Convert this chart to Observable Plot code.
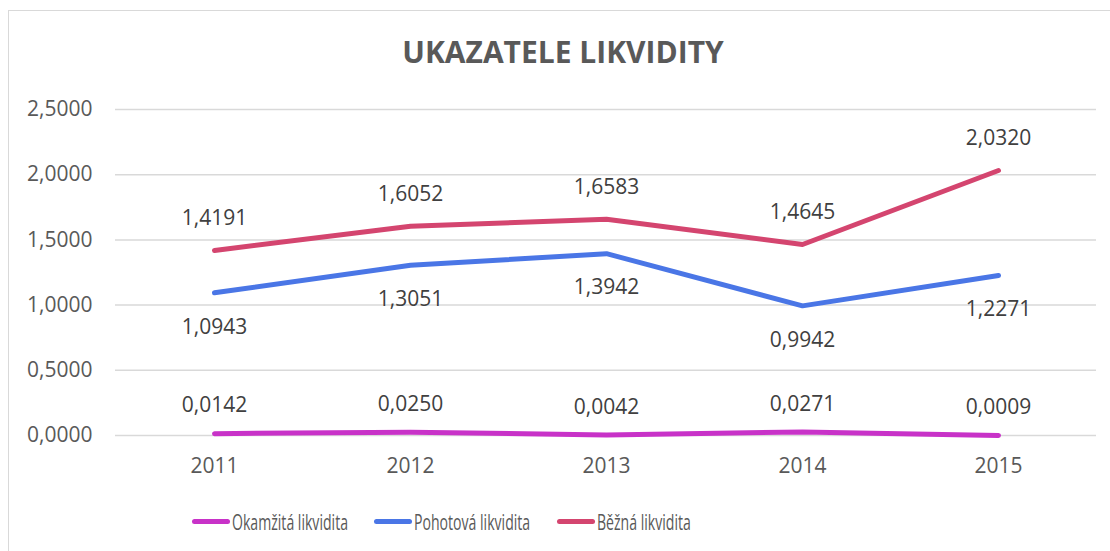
<!DOCTYPE html>
<html>
<head>
<meta charset="utf-8">
<script src="https://cdn.jsdelivr.net/npm/d3@7"></script>
<script src="https://cdn.jsdelivr.net/npm/@observablehq/plot@0.6"></script>
<style>
  html, body { margin: 0; padding: 0; background: #fff; }
  body { width: 1110px; height: 551px; overflow: hidden; position: relative; font-family: "Open Sans", sans-serif; }
  #frame { position: absolute; left: 8px; top: 10px; width: 1200px; height: 600px; border: 1.5px solid #d9d9d9; box-sizing: border-box; }
  #title { position: absolute; left: 0; top: 32px; width: 1126px; text-align: center; font-size: 30px; line-height: 40px; font-weight: 700; color: #595959; }
  #chart { position: absolute; left: 0; top: 0; }
  .leg { position: absolute; top: 509px; height: 24px; display: flex; align-items: center; white-space: nowrap; }
  .sw { width: 38px; height: 5px; border-radius: 3px; }
  .lt { margin-left: 2px; font-size: 22px; color: #595959; transform: scaleX(0.64); transform-origin: left center; display: inline-block; }
</style>
</head>
<body>
<div id="frame"></div>
<div id="title">UKAZATELE LIKVIDITY</div>
<div id="chart"></div>
<div id="legend"></div>
<script>
const years = ["2011", "2012", "2013", "2014", "2015"];
const seriesNames = ["Okamžitá likvidita", "Pohotová likvidita", "Běžná likvidita"];
const okamzita = [0.0142, 0.0250, 0.0042, 0.0271, 0.0009];
const pohotova = [1.0943, 1.3051, 1.3942, 0.9942, 1.2271];
const bezna = [1.4191, 1.6052, 1.6583, 1.4645, 2.0320];
const yTicks = [0, 0.5, 1, 1.5, 2, 2.5];

const colors = ["#C832C8", "#4A76E6", "#D4456F"];
const labelOffsets = [-28, 34, -32];
const legendLeft = [192, 374, 557];

const values = [okamzita, pohotova, bezna];
const rows = [];
seriesNames.forEach((s, i) => years.forEach((y, j) => rows.push({series: s, year: y, value: values[i][j], idx: i})));
const fmt = d => d.toFixed(4).replace(".", ",");

const marks = [
  Plot.gridY(yTicks, {stroke: "#d9d9d9", strokeOpacity: 1, strokeWidth: 1.5}),
  Plot.axisY({ticks: yTicks, tickSize: 0, tickPadding: 23, tickFormat: fmt, label: null, fill: "#595959"}),
  Plot.axisX({tickSize: 0, tickPadding: 23, label: null, fill: "#595959"}),
  Plot.lineY(rows, {x: "year", y: "value", z: "series", stroke: "series", strokeWidth: 5, strokeLinecap: "round", strokeLinejoin: "round"})
];
seriesNames.forEach((s, i) => {
  marks.push(Plot.text(rows.filter(r => r.idx === i), {x: "year", y: "value", text: d => fmt(d.value), dy: labelOffsets[i], fill: "#404040", fontSize: 21}));
});

const chart = Plot.plot({
  width: 1110,
  height: 480,
  marginLeft: 115,
  marginRight: 14,
  marginTop: 109,
  marginBottom: 45,
  x: {type: "point", domain: years, padding: 0.5, label: null},
  y: {domain: [0, 2.5], label: null},
  color: {domain: seriesNames, range: colors},
  style: {fontFamily: "Open Sans", fontSize: "21px", color: "#595959", background: "transparent", overflow: "visible"},
  marks
});
document.getElementById("chart").appendChild(chart);

const legend = document.getElementById("legend");
seriesNames.forEach((s, i) => {
  const item = document.createElement("div");
  item.className = "leg";
  item.style.left = legendLeft[i] + "px";
  const sw = document.createElement("span");
  sw.className = "sw";
  sw.style.background = colors[i];
  const t = document.createElement("span");
  t.className = "lt";
  t.textContent = s;
  item.appendChild(sw);
  item.appendChild(t);
  legend.appendChild(item);
});
</script>
</body>
</html>
